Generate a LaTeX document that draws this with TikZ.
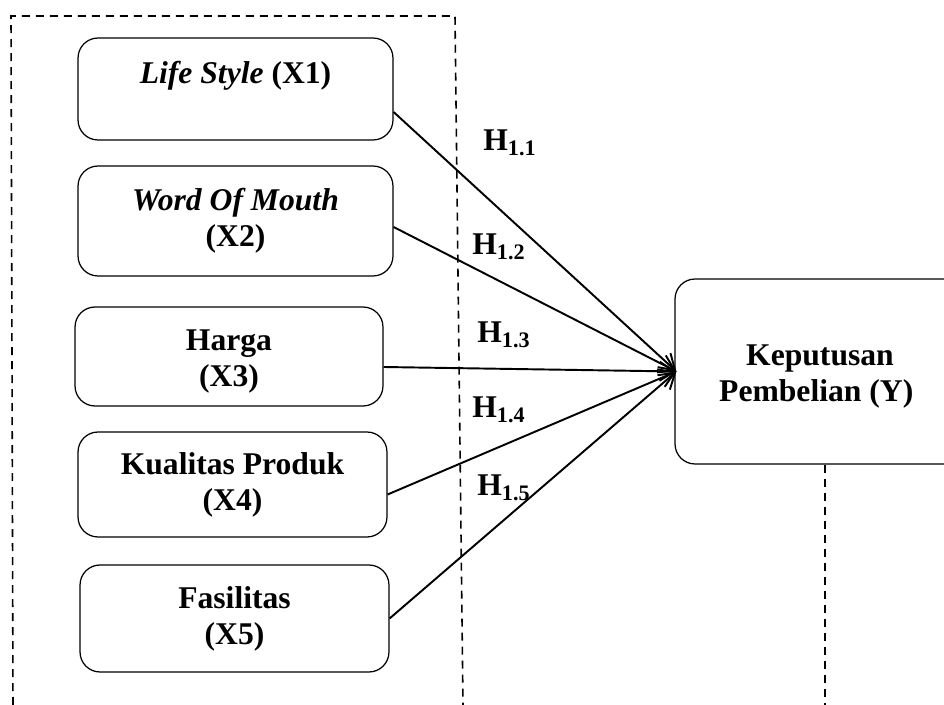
\documentclass[tikz,border=0pt]{standalone}
\usepackage{fontspec}
\setmainfont{Liberation Serif}
\usetikzlibrary{arrows.meta}

\begin{document}
\begin{tikzpicture}[x=0.02cm, y=-0.02cm,
  font=\fontsize{18}{20.5}\selectfont\bfseries,
  var/.style={draw, line width=0.7pt, rounded corners=0.4cm, align=center, inner sep=0pt},
  frame/.style={line width=0.9pt, dash pattern=on 0.16cm off 0.12cm},
  hyp/.style={line width=1.1pt, -{Straight Barb[length=0.3cm, width=0.38cm, line width=1.1pt]}},
  hlabel/.style={anchor=west, inner sep=0pt}]
  \useasboundingbox (0,0) rectangle (944,705);
  % dashed frame round the independent variables
  \draw[frame] (13,705) -- (11,16) -- (455,16) -- (463,705);
  % independent variables
  \node[var, minimum width=6.3cm, minimum height=2.04cm] (x1) at (235.5,89) {\textit{Life Style} (X1)\\[-0.28cm]\strut};
  \node[var, minimum width=6.3cm, minimum height=2.2cm] (x2) at (235.5,221) {\textit{Word Of Mouth}\\(X2)};
  \node[var, minimum width=6.16cm, minimum height=1.98cm] (x3) at (229,356.5) {\rule{0pt}{0.62cm}Harga\\(X3)};
  \node[var, minimum width=6.18cm, minimum height=2.1cm] (x4) at (232.5,484.5) {Kualitas Produk\\(X4)};
  \node[var, minimum width=6.18cm, minimum height=2.14cm] (x5) at (234.5,618.5) {Fasilitas\\(X5)};
  % dependent variable (cut off by the right margin)
  \node[var, minimum width=5.8cm, minimum height=3.7cm] (y) at (820,371.5) {\rule{0pt}{0.62cm}Keputusan\\Pembelian (Y)\hspace*{0.15cm}};
  \draw[frame] ([xshift=0.1cm]y.south) -- ++(0,241);
  % hypotheses
  \draw[hyp] ([yshift=-0.46cm]x1.east) -- ([xshift=0.04cm]y.west);
  \draw[hyp] ([yshift=-0.12cm]x2.east) -- ([xshift=0.04cm]y.west);
  \draw[hyp] ([yshift=-0.21cm]x3.east) -- ([xshift=0.04cm]y.west);
  \draw[hyp] ([yshift=-0.2cm]x4.east) -- ([xshift=0.04cm]y.west);
  \draw[hyp] (x5.east) -- ([xshift=0.04cm]y.west);
  \node[hlabel] (h1) at (483,143) {H\textsubscript{1.1}};
  \node[hlabel] (h2) at (472,247) {H\textsubscript{1.2}};
  \node[hlabel] (h3) at (477,335) {H\textsubscript{1.3}};
  \node[hlabel] (h4) at (472,410) {H\textsubscript{1.4}};
  \node[hlabel] (h5) at (477,488) {H\textsubscript{1.5}};
\end{tikzpicture}
\end{document}
